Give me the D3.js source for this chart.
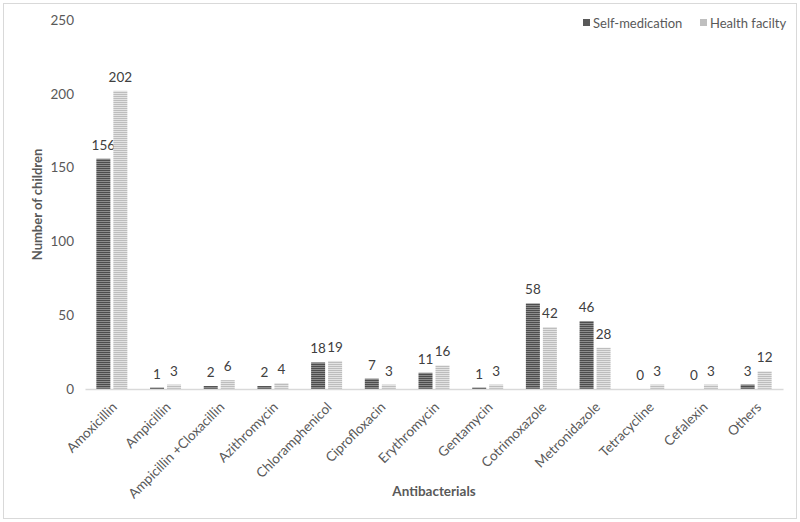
<!DOCTYPE html>
<html><head><meta charset="utf-8">
<script src="https://cdn.jsdelivr.net/npm/d3@7"></script>
<style>body{margin:0;background:#fff}svg{display:block}text{font-family:Lato,"Open Sans",sans-serif}</style>
</head><body><div id="chart"></div>
<script>
const categories = ["Amoxicillin","Ampicillin","Ampicillin +Cloxacillin","Azithromycin","Chloramphenicol","Ciprofloxacin","Erythromycin","Gentamycin","Cotrimoxazole","Metronidazole","Tetracycline","Cefalexin","Others"];
const selfMedication = [156,1,2,2,18,7,11,1,58,46,0,0,3];
const healthFacility = [202,3,6,4,19,3,16,3,42,28,3,3,12];
const seriesNames = ["Self-medication","Health facilty"];
const yTicks = [0,50,100,150,200,250];

const W=800,H=522;
const m={l:85,r:17,t:20,b:133};
const FONT="Lato,'Open Sans',sans-serif";
const svg=d3.select("#chart").append("svg").attr("width",W).attr("height",H);
svg.append("rect").attr("x",3.5).attr("y",3.5).attr("width",W-7).attr("height",H-7).attr("fill","#fff").attr("stroke","#d9d9d9");

const defs=svg.append("defs");
function pat(id,c1,c2){
  const p=defs.append("pattern").attr("id",id).attr("patternUnits","userSpaceOnUse").attr("width",4).attr("height",2);
  p.append("rect").attr("width",4).attr("height",1).attr("fill",c1);
  p.append("rect").attr("y",1).attr("width",4).attr("height",1).attr("fill",c2);
}
pat("pDark","#4d4d4d","#8c8c8c");
pat("pLight","#bdbdbd","#e3e3e3");

const x=d3.scaleBand().domain(categories).range([m.l,W-m.r]);
const y=d3.scaleLinear().domain([0,250]).range([H-m.b,m.t]);
const bw=14, gap=3;

const g=svg.append("g");
const ya=d3.axisLeft(y).tickValues(yTicks).tickSize(0).tickPadding(11);
const yg=svg.append("g").attr("transform",`translate(${m.l},0)`).call(ya);
yg.select(".domain").remove();
yg.selectAll("text").attr("fill","#595959").style("font-size","13.5px").style("font-family",FONT);

const series=[{name:seriesNames[0],vals:selfMedication,fill:"url(#pDark)",sw:"#595959",off:-(bw+gap/2)},{name:seriesNames[1],vals:healthFacility,fill:"url(#pLight)",sw:"#bfbfbf",off:gap/2}];
series.forEach(s=>{
  categories.forEach((c,i)=>{
    const cx=x(c)+x.bandwidth()/2;
    g.append("rect").attr("x",cx+s.off).attr("y",y(s.vals[i])).attr("width",bw).attr("height",y(0)-y(s.vals[i])).attr("fill",s.fill);
    g.append("text").attr("x",cx+s.off+bw/2).attr("y",y(s.vals[i])-9).attr("text-anchor","middle").attr("fill","#404040").style("font-size","13.5px").text(s.vals[i]);
  });
});

const xa=d3.axisBottom(x).tickSize(0).tickPadding(0);
const xg=svg.append("g").attr("transform",`translate(0,${y(0)})`).call(xa);
xg.select(".domain").attr("stroke","#d9d9d9").attr("stroke-width",1.5);
xg.selectAll("text").attr("fill","#595959").style("font-size","13.5px").style("font-family",FONT)
  .attr("text-anchor","end").attr("dy","0").attr("transform","translate(6,19) rotate(-45)");

svg.append("text").attr("transform",`translate(42,${(y(0)+y(250))/2}) rotate(-90)`).attr("text-anchor","middle").attr("fill","#595959").style("font-size","13px").style("font-weight","bold").text("Number of children");
svg.append("text").attr("x",(m.l+W-m.r)/2).attr("y",496).attr("text-anchor","middle").attr("fill","#595959").style("font-size","13.5px").style("font-weight","bold").text("Antibacterials");

const leg=[{x:583,t:seriesNames[0],c:"#595959"},{x:700,t:seriesNames[1],c:"#bfbfbf"}];
leg.forEach(l=>{
  svg.append("rect").attr("x",l.x).attr("y",19).attr("width",7).attr("height",7).attr("fill",l.c);
  svg.append("text").attr("x",l.x+10).attr("y",27.5).attr("fill","#595959").style("font-size","13px").text(l.t);
});
</script></body></html>
